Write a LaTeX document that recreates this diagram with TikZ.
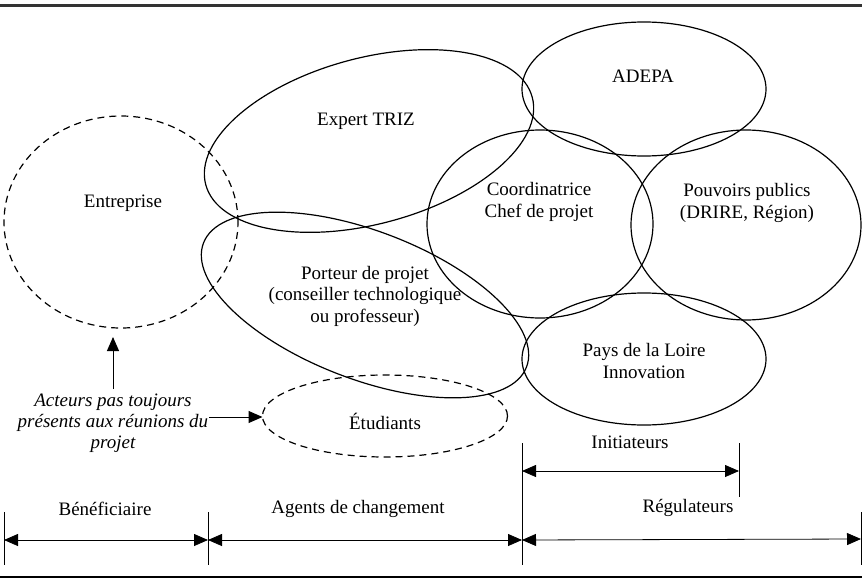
\documentclass[tikz,border=0pt]{standalone}
\usepackage{fontspec}
\setmainfont{Liberation Serif}
\usetikzlibrary{arrows.meta,shapes.geometric}

\begin{document}
\begin{tikzpicture}[x=1pt,y=-1pt,
  every node/.style={font=\fontsize{19}{21.5}\selectfont},
  acteur/.style={draw,ellipse,line width=1.2pt,inner sep=0pt,outer sep=0pt},
  absent/.style={acteur,dash pattern=on 7pt off 5pt},
  txt/.style={align=center,inner sep=0pt},
  fleche/.style={line width=1pt,-{Triangle[length=14pt,width=12pt]}},
  cote/.style={line width=0.8pt,{Triangle[length=14pt,width=12pt]}-{Triangle[length=14pt,width=12pt]}},
  repere/.style={line width=0.8pt}]

\useasboundingbox (0,0) rectangle (862,578);

% ============================================================
% 1. RULES
% ============================================================

\draw[line width=2.5pt,black!80] (0,5.5) -- (862,5.5);
\draw[line width=1.2pt] (0,577) -- (862,577);

% ============================================================
% 2. ACTORS (ellipses)
% ============================================================

\node[absent,minimum width=234pt,minimum height=212pt] (entreprise) at (121,222) {};
\node[acteur,minimum width=338pt,minimum height=166pt,rotate=15] (expert) at (369,141) {};
\node[acteur,minimum width=346pt,minimum height=148pt,rotate=-21] (porteur) at (365,305) {};
\node[acteur,minimum width=226pt,minimum height=188pt] (coord) at (540,224) {};
\node[acteur,minimum width=244pt,minimum height=134pt] (adepa) at (644,89) {};
\node[acteur,minimum width=230pt,minimum height=190pt] (pouvoirs) at (746,225) {};
\node[acteur,minimum width=244pt,minimum height=132pt] (pdl) at (644,359) {};
\node[absent,minimum width=245pt,minimum height=82pt] (etudiants) at (385,416) {};

% Labels
\node[txt] (entreprise-t) at (123,203) {Entreprise};
\node[txt] (expert-t) at (366,121) {Expert TRIZ};
\node[txt] (porteur-t) at (365,296) {Porteur de projet\\(conseiller technologique\\ou professeur)};
\node[txt] (coord-t) at (539,202) {Coordinatrice\\Chef de projet};
\node[txt] (adepa-t) at (643,76) {ADEPA};
\node[txt] (pouvoirs-t) at (747,203) {Pouvoirs publics\\(DRIRE, Région)};
\node[txt] (pdl-t) at (644,361) {Pays de la Loire\\Innovation};
\node[txt] (etudiants-t) at (385,421) {Étudiants};

% ============================================================
% 3. NOTE
% ============================================================

\node[txt,font=\fontsize{19}{21}\selectfont\itshape] (note) at (113,423)
  {Acteurs pas toujours\\présents aux réunions du\\projet};
\coordinate (note-n) at (113,389);
\coordinate (note-e) at (209,417);

\draw[fleche,shorten >=9pt] (note-n) -- (note-n |- entreprise.south);
\draw[fleche] (note-e) -- (etudiants.west |- note-e);

% ============================================================
% 4. ROLES (dimension lines)
% ============================================================

\coordinate (b0) at (4,540);
\coordinate (b1) at (208,540);
\coordinate (b2) at (522,540);
\coordinate (b3) at (861,539);
\coordinate (i0) at (522,471);
\coordinate (i1) at (739,471);

% ticks
\foreach \x/\ya/\yb in {4/512/565,208/512/565,522/443/565,739/443/497,861/512/565}{
  \draw[repere] (\x,\ya) -- (\x,\yb);
}

\draw[cote] (b0) -- (b1);
\draw[cote] (b1) -- (b2);
\draw[cote] (b2) -- (b3);
\draw[cote] (i0) -- (i1);

\node[txt] (benef) at (105,509) {Bénéficiaire};
\node[txt] (agents) at (358,509) {Agents de changement};
\node[txt] (regul) at (688,508) {Régulateurs};
\node[txt] (init) at (630,442) {Initiateurs};

\end{tikzpicture}
\end{document}
